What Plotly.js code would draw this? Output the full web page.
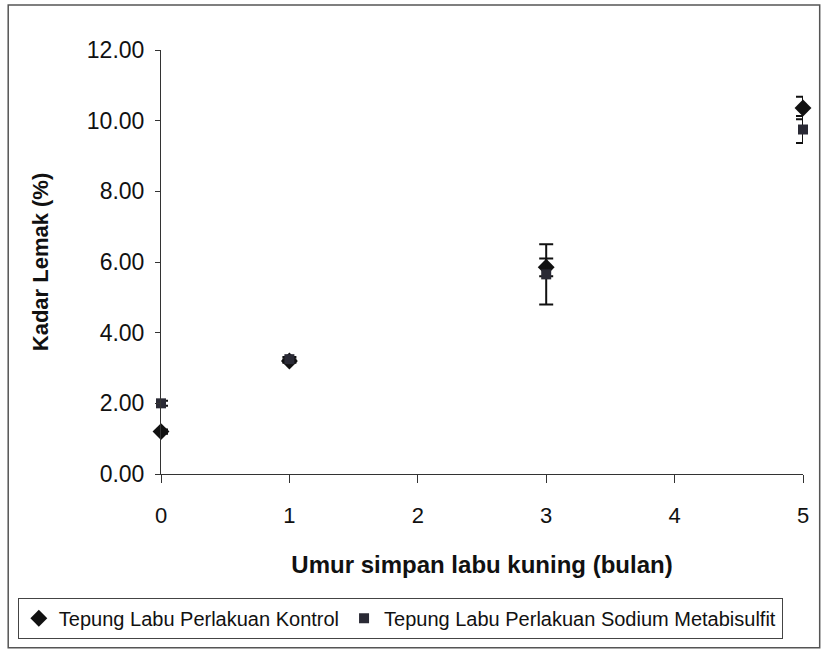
<!DOCTYPE html>
<html>
<head>
<meta charset="utf-8">
<script src="https://cdn.plot.ly/plotly-3.0.1.min.js"></script>
<style>
html,body{margin:0;padding:0;background:#fff;}
#chart{width:821px;height:656px;}
</style>
</head>
<body>
<div id="chart"></div>
<script>
// Data
const months = [0, 1, 3, 5];
const kontrolValues = [1.20, 3.20, 5.85, 10.36];
const kontrolErrors = [0.06, 0.05, 0.25, 0.32];
const sodiumValues = [2.00, 3.25, 5.65, 9.75];
const sodiumErrors = [0.07, 0.06, 0.85, 0.38];
const yTickValues = [0, 2, 4, 6, 8, 10, 12];
const yTickLabels = ["0.00", "2.00", "4.00", "6.00", "8.00", "10.00", "12.00"];
const xTickValues = [0, 1, 2, 3, 4, 5];

const font = "Liberation Sans, Arial, sans-serif";

const traces = [
  {
    x: months, y: kontrolValues, type: "scatter", mode: "markers",
    name: "Tepung Labu Perlakuan Kontrol",
    marker: {symbol: "diamond", size: 13, color: "#111"},
    error_y: {type: "data", array: kontrolErrors, visible: true, color: "#111", thickness: 2, width: 7},
    cliponaxis: false
  },
  {
    x: months, y: sodiumValues, type: "scatter", mode: "markers",
    name: "Tepung Labu Perlakuan Sodium Metabisulfit",
    marker: {symbol: "square", size: 10, color: "#2a2a35"},
    error_y: {type: "data", array: sodiumErrors, visible: true, color: "#111", thickness: 2, width: 7},
    cliponaxis: false
  }
];

const layout = {
  width: 821, height: 656,
  margin: {l: 161, r: 18, t: 50, b: 182},
  paper_bgcolor: "#fff", plot_bgcolor: "#fff",
  font: {family: font, color: "#111"},
  showlegend: true,
  xaxis: {
    range: [0, 5], tickvals: xTickValues, ticktext: xTickValues.map(String),
    showgrid: false, zeroline: false, showline: true, linecolor: "#333", linewidth: 1,
    ticks: "outside", ticklen: 8, tickcolor: "#333", ticklabelstandoff: 14,
    tickfont: {size: 22, family: font, color: "#111"},
    title: {text: "<b>Umur simpan labu kuning (bulan)</b>", font: {size: 24, family: font, color: "#111"}, standoff: 28}
  },
  yaxis: {
    range: [0, 12], tickvals: yTickValues, ticktext: yTickLabels,
    showgrid: false, zeroline: false, showline: true, linecolor: "#333", linewidth: 1,
    ticks: "outside", ticklen: 5, tickcolor: "#333", ticklabelstandoff: 6,
    tickfont: {size: 23, family: font, color: "#111"},
    title: {text: "<b>Kadar Lemak (%)</b>", font: {size: 22, family: font, color: "#111"}, standoff: 32}
  },
  legend: {
    orientation: "h", x: -0.223, xanchor: "left", y: -0.292, yanchor: "top",
    bordercolor: "#444", borderwidth: 1, bgcolor: "#fff",
    font: {size: 20, family: font, color: "#111"},
    itemwidth: 30, tracegroupgap: 0
  },
  shapes: [
    {type: "rect", xref: "paper", yref: "paper", x0: -0.238, x1: 1.026, y0: -0.41, y1: 1.106,
     line: {color: "#555", width: 1.5}, fillcolor: "rgba(0,0,0,0)", layer: "below"}
  ]
};

Plotly.newPlot("chart", traces, layout, {displayModeBar: false, staticPlot: true});
</script>
</body>
</html>
